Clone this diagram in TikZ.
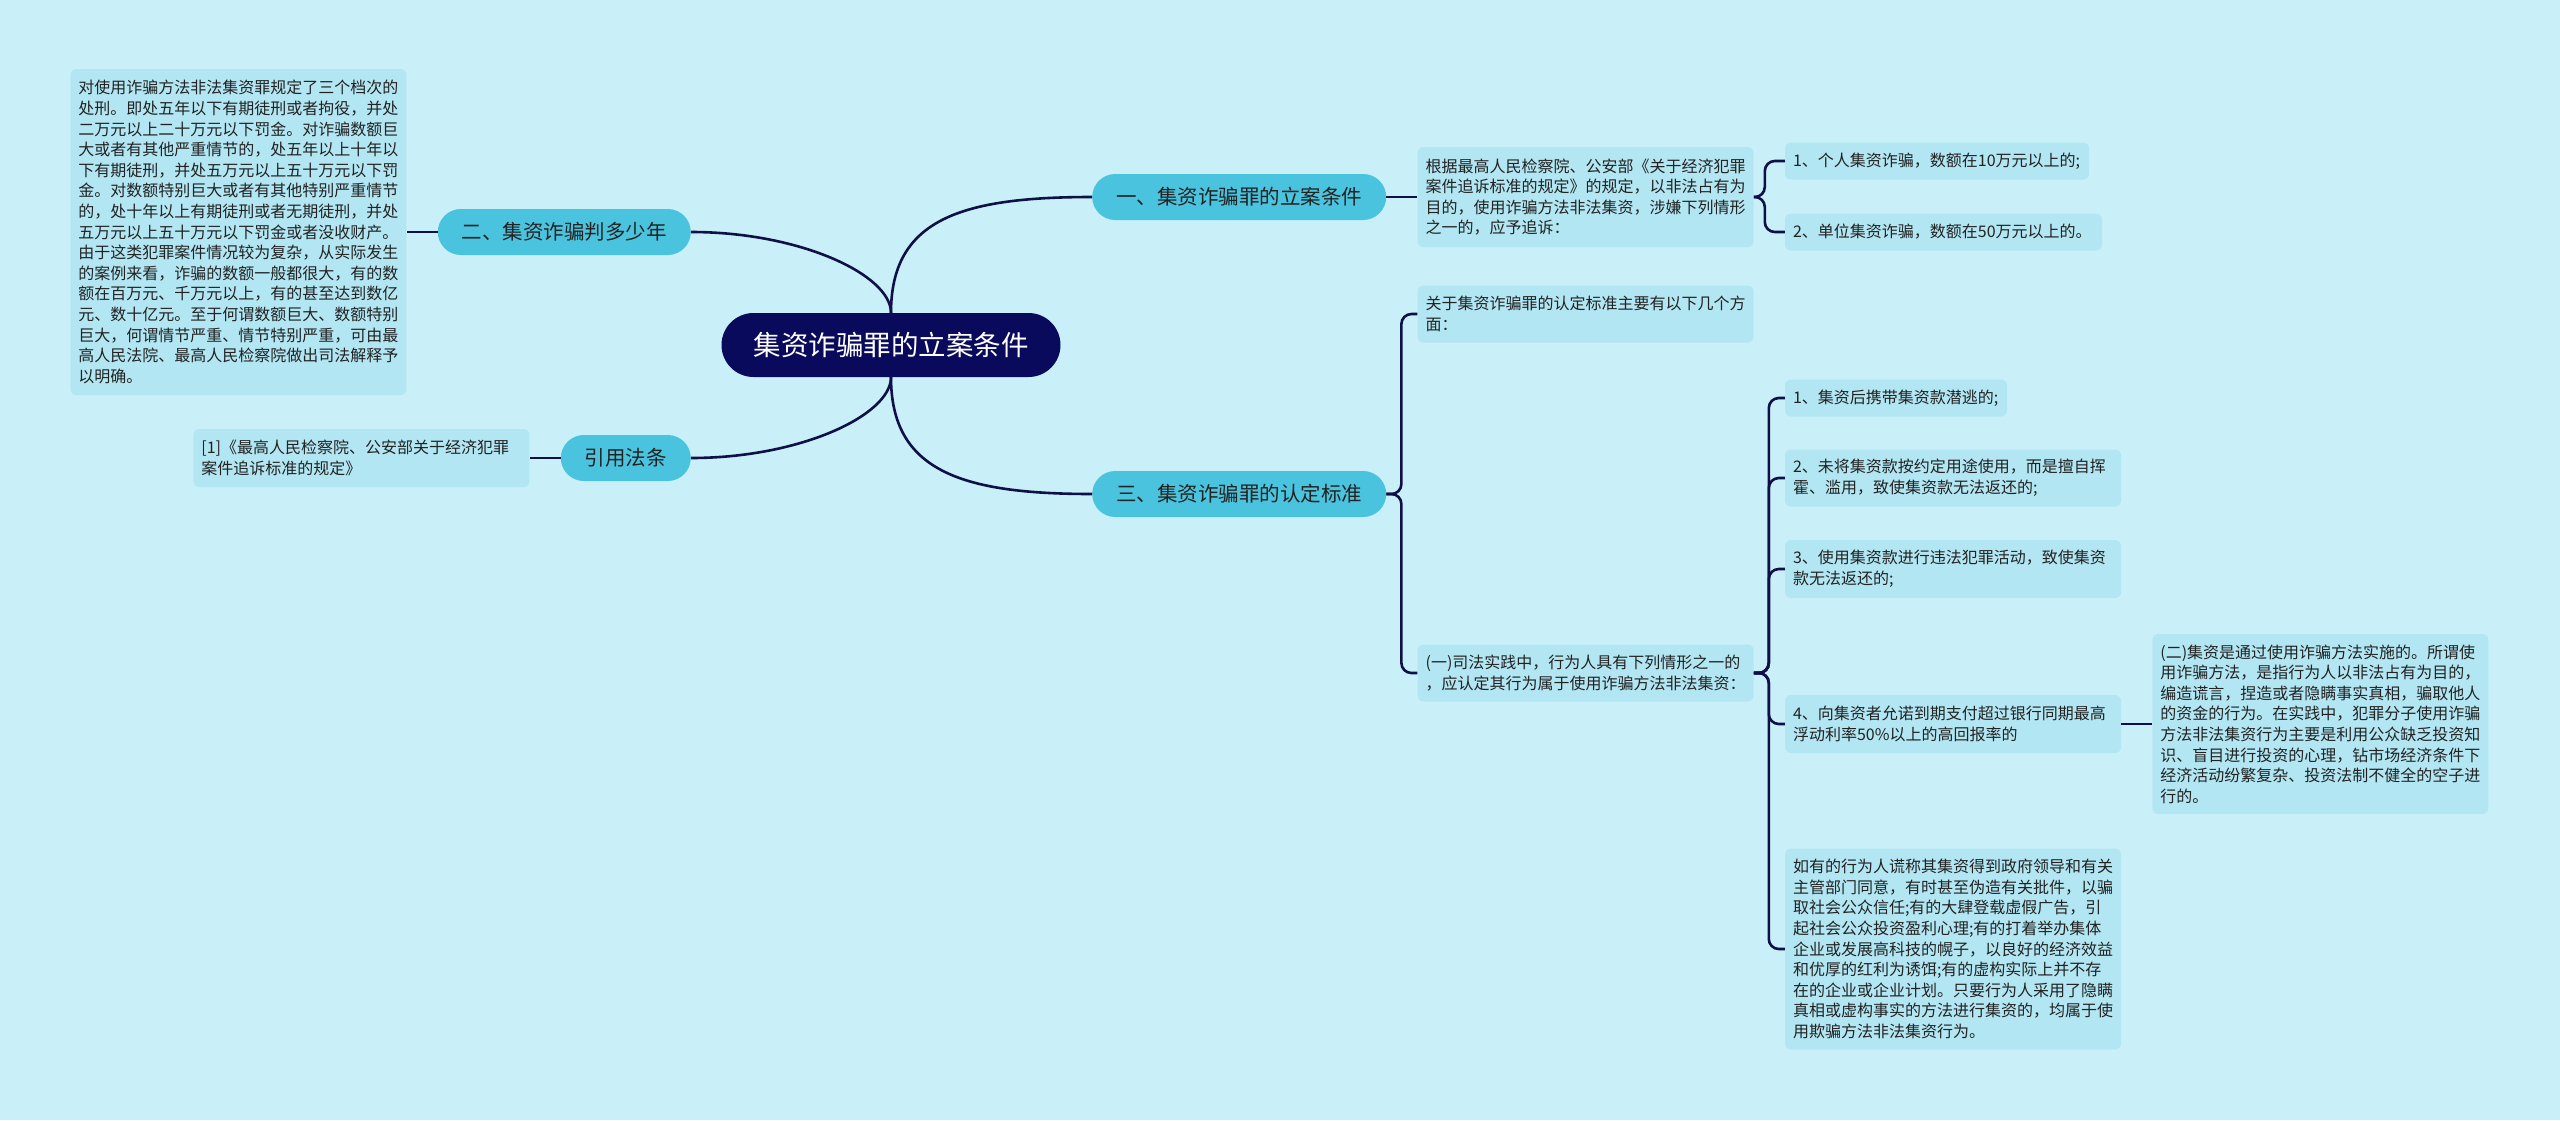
\documentclass[tikz,border=0pt]{standalone}
\usepackage{fontspec}
\usepackage{xcolor}
\usepackage{tikz}
\usetikzlibrary{positioning}

\newfontfamily\cjk{Noto Sans CJK SC}
\definecolor{bgcol}{HTML}{C9F0F8}
\definecolor{leafcol}{HTML}{B2E6F2}
\definecolor{branchcol}{HTML}{4AC4DE}
\definecolor{rootcol}{HTML}{0A0A5C}
\definecolor{linecol}{HTML}{101048}
\definecolor{textcol}{HTML}{222222}

\begin{document}
\begin{tikzpicture}[
    x=1pt, y=-1pt,
    node distance=31pt,
    root/.style={rectangle, rounded corners=32pt, fill=rootcol, text=white, minimum height=64pt, inner xsep=32pt, font=\cjk\fontsize{27.5pt}{32pt}\selectfont},
    branch/.style={rectangle, rounded corners=23pt, fill=branchcol, text=textcol, minimum height=46pt, inner xsep=24pt, font=\cjk\fontsize{20.5pt}{24pt}\selectfont},
    leaf/.style={rectangle, rounded corners=6pt, fill=leafcol, text=textcol, text width=#1, inner xsep=8pt, inner ysep=4pt, align=left, font=\cjk\fontsize{16pt}{20.6pt}\selectfont},
    leaf/.default=320pt,
    link/.style={draw=linecol, line width=2.6pt, rounded corners=10pt},
]
    \fill[bgcol] (0,0) rectangle (2560,1120);
    \useasboundingbox (0,0) rectangle (2560,1120);

    % Root and main branches
    \node[root] (root) at (891,345) {集资诈骗罪的立案条件};
    \node[branch, anchor=west] (b1) at (1092,197) {一、集资诈骗罪的立案条件};
    \node[branch, anchor=west] (b3) at (1092,494) {三、集资诈骗罪的认定标准};
    \node[branch, anchor=east] (b2) at (691,232) {二、集资诈骗判多少年};
    \node[branch, anchor=east] (b4) at (691,458) {引用法条};

    % Left side
    \node[leaf, minimum height=326pt, left=of b2] (l2) {对使用诈骗方法非法集资罪规定了三个档次的\\处刑。即处五年以下有期徒刑或者拘役，并处\\二万元以上二十万元以下罚金。对诈骗数额巨\\大或者有其他严重情节的，处五年以上十年以\\下有期徒刑，并处五万元以上五十万元以下罚\\金。对数额特别巨大或者有其他特别严重情节\\的，处十年以上有期徒刑或者无期徒刑，并处\\五万元以上五十万元以下罚金或者没收财产。\\由于这类犯罪案件情况较为复杂，从实际发生\\的案例来看，诈骗的数额一般都很大，有的数\\额在百万元、千万元以上，有的甚至达到数亿\\元、数十亿元。至于何谓数额巨大、数额特别\\巨大，何谓情节严重、情节特别严重，可由最\\高人民法院、最高人民检察院做出司法解释予\\以明确。};
    \node[leaf, minimum height=58pt, left=of b4] (l4) {[1]《最高人民检察院、公安部关于经济犯罪\\案件追诉标准的规定》};

    % Branch one
    \node[leaf, minimum height=100pt, right=of b1] (l1) {根据最高人民检察院、公安部《关于经济犯罪\\案件追诉标准的规定》的规定，以非法占有为\\目的，使用诈骗方法非法集资，涉嫌下列情形\\之一的，应予追诉：};
    \node[leaf=288pt, minimum height=37pt, right=of l1, yshift=36pt] (l1a) {1、个人集资诈骗，数额在10万元以上的;};
    \node[leaf=301pt, minimum height=37pt, right=of l1, yshift=-35pt] (l1b) {2、单位集资诈骗，数额在50万元以上的。};

    % Branch three
    \node[leaf, minimum height=57pt, right=of b3, yshift=180pt] (l3a) {关于集资诈骗罪的认定标准主要有以下几个方\\面：};
    \node[leaf, minimum height=57pt, right=of b3, yshift=-179pt] (l3b) {(一)司法实践中，行为人具有下列情形之一的\\，应认定其行为属于使用诈骗方法非法集资：};
    \node[leaf=206pt, minimum height=37pt, right=of l3b, yshift=275pt] (a1) {1、集资后携带集资款潜逃的;};
    \node[leaf, minimum height=57pt, right=of l3b, yshift=195pt] (a2) {2、未将集资款按约定用途使用，而是擅自挥\\霍、滥用，致使集资款无法返还的;};
    \node[leaf, minimum height=58pt, right=of l3b, yshift=104pt] (a3) {3、使用集资款进行违法犯罪活动，致使集资\\款无法返还的;};
    \node[leaf, minimum height=58pt, right=of l3b, yshift=-51pt] (a4) {4、向集资者允诺到期支付超过银行同期最高\\浮动利率50\%以上的高回报率的};
    \node[leaf, minimum height=201pt, right=of l3b, yshift=-276pt] (a5) {如有的行为人谎称其集资得到政府领导和有关\\主管部门同意，有时甚至伪造有关批件，以骗\\取社会公众信任;有的大肆登载虚假广告，引\\起社会公众投资盈利心理;有的打着举办集体\\企业或发展高科技的幌子，以良好的经济效益\\和优厚的红利为诱饵;有的虚构实际上并不存\\在的企业或企业计划。只要行为人采用了隐瞒\\真相或虚构事实的方法进行集资的，均属于使\\用欺骗方法非法集资行为。};
    \node[leaf, minimum height=180pt, right=of a4] (a4x) {(二)集资是通过使用诈骗方法实施的。所谓使\\用诈骗方法，是指行为人以非法占有为目的，\\编造谎言，捏造或者隐瞒事实真相，骗取他人\\的资金的行为。在实践中，犯罪分子使用诈骗\\方法非法集资行为主要是利用公众缺乏投资知\\识、盲目进行投资的心理，钻市场经济条件下\\经济活动纷繁复杂、投资法制不健全的空子进\\行的。};

    % Links
    \draw[link] (root.north) .. controls +(0,-93) and +(-132,0) .. (b1.west);
    \draw[link] (root.south) .. controls +(0,93) and +(-132,0) .. (b3.west);
    \draw[link] (root.north) .. controls +(0,-38) and +(109,0) .. (b2.east);
    \draw[link] (root.south) .. controls +(0,38) and +(109,0) .. (b4.east);
    \draw[link] (b2.west) -- (l2.east);
    \draw[link] (b4.west) -- (l4.east);
    \draw[link] (b1.east) -- (l1.west);
    \draw[link] (l1.east) -- ++(11,0) |- (l1a.west);
    \draw[link] (l1.east) -- ++(11,0) |- (l1b.west);
    \draw[link] (b3.east) -- ++(15,0) |- (l3a.west);
    \draw[link] (b3.east) -- ++(15,0) |- (l3b.west);
    \draw[link] (l3b.east) -- ++(15,0) |- (a1.west);
    \draw[link] (l3b.east) -- ++(15,0) |- (a2.west);
    \draw[link] (l3b.east) -- ++(15,0) |- (a3.west);
    \draw[link] (l3b.east) -- ++(15,0) |- (a4.west);
    \draw[link] (l3b.east) -- ++(15,0) |- (a5.west);
    \draw[link] (a4.east) -- (a4x.west);
\end{tikzpicture}
\end{document}
